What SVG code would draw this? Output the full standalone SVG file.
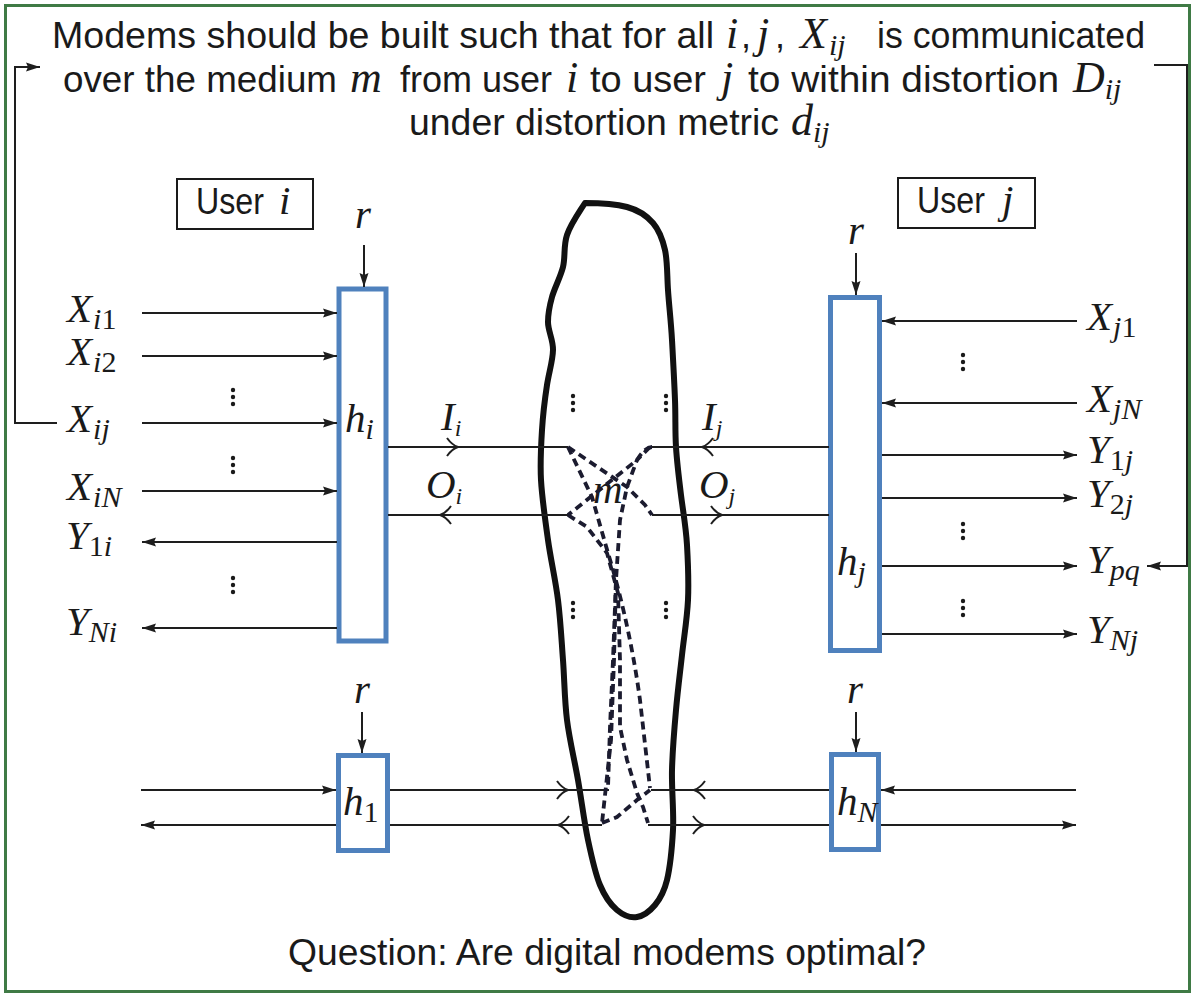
<svg xmlns="http://www.w3.org/2000/svg" width="1195" height="997" viewBox="0 0 1195 997">
<style>
.sans{font-family:"Liberation Sans",Arial,sans-serif;font-size:36px;fill:#1a1a1a}
.mi{font-family:"Liberation Serif","Times New Roman",serif;font-style:italic;font-size:41px;fill:#1a1a1a}
.mt{font-family:"Liberation Serif","Times New Roman",serif;font-style:italic;font-size:44px;fill:#1a1a1a}
.sb{font-size:30px}
.up{font-style:normal}
.ln{stroke:#1e1e1e;stroke-width:2;fill:none}
.arr{marker-end:url(#ah)}
.blue{fill:#fff;stroke:#4f81bd;stroke-width:5}
.ubox{fill:none;stroke:#1a1a1a;stroke-width:2}
.dash{stroke:#1b1b2f;stroke-width:3.8;stroke-dasharray:8 5;fill:none}
.chev{stroke:#1e1e1e;stroke-width:2;fill:none}
.dot{fill:#1a1a1a}
</style>
<defs>
<marker id="ah" viewBox="0 0 14 10" refX="14" refY="5" markerWidth="14" markerHeight="10" markerUnits="userSpaceOnUse" orient="auto">
<path d="M0,0.5 L14,5 L0,9.5 L2,5 Z" fill="#1e1e1e"/>
</marker>
</defs>
<rect x="5.5" y="5.5" width="1184" height="986" fill="#fff" stroke="#3f7a45" stroke-width="3"/>

<g id="title">
<text class="sans" x="52" y="48" textLength="662" lengthAdjust="spacingAndGlyphs">Modems should be built such that for all</text>
<text class="mt" x="726" y="48">i</text><text class="sans" x="741" y="48">,</text>
<text class="mt" x="757" y="48">j</text><text class="sans" x="775" y="48">,</text>
<text class="mt" x="800" y="48" font-size="46">X<tspan class="sb" dy="7" dx="2">ij</tspan></text>
<text class="sans" x="877" y="48" textLength="268" lengthAdjust="spacingAndGlyphs">is communicated</text>
<text class="sans" x="63" y="92" textLength="274" lengthAdjust="spacingAndGlyphs">over the medium</text>
<text class="mt" x="350" y="92" font-size="47">m</text>
<text class="sans" x="400" y="92" textLength="152" lengthAdjust="spacingAndGlyphs">from user</text>
<text class="mt" x="566" y="92">i</text>
<text class="sans" x="590" y="92" textLength="116" lengthAdjust="spacingAndGlyphs">to user</text>
<text class="mt" x="721" y="92">j</text>
<text class="sans" x="748" y="92" textLength="311" lengthAdjust="spacingAndGlyphs">to within distortion</text>
<text class="mt" x="1073" y="92">D<tspan class="sb" dy="7">ij</tspan></text>
<text class="sans" x="409" y="135" textLength="370" lengthAdjust="spacingAndGlyphs">under distortion metric</text>
<text class="mt" x="791" y="135">d<tspan class="sb" dy="7">ij</tspan></text>
</g>

<g id="user-i">
<rect class="ubox" x="177" y="179" width="136" height="50"/>
<text class="sans" x="196" y="214" font-size="35" textLength="68" lengthAdjust="spacingAndGlyphs">User</text>
<text class="mi" x="279" y="214">i</text>
</g>
<g id="user-j">
<rect class="ubox" x="898" y="178" width="137" height="50"/>
<text class="sans" x="917" y="213" font-size="35" textLength="68" lengthAdjust="spacingAndGlyphs">User</text>
<text class="mi" x="1002" y="213">j</text>
</g>

<g id="medium">
<path d="M585,203 C596,203 616,204 627,207 S647,216 653,223 S662.5,239 665,250 S667,275 668,290 S671,322 672,340 S674.3,382 675,400 S675,431 676,447 S679,479 681,495 S686,527.5 687,545 S688.8,582 688,600 S684,637 682,655 S677.7,691 676,710 S672.5,750 672,770 S674,812 673,830 S670,867.5 667,880 S660,899 655,905 S643,916 637,917 S623,915 617,910 S605,897 600,885 S591.7,857.5 588,840 S581.5,800 578,780 S569.5,740 567,720 S564.5,680 563,660 S560.5,620 558,600 S550.8,560 548,540 S542,498 541,480 S541,446 542,430 S545,398 547,385 S552.8,360.5 553,350 S548,331 548,322 S549.5,306 552,297 S560.5,277 563,267 S563.3,246 567,235 S578,214 585,203 Z" fill="none" stroke="#111" stroke-width="6" stroke-linejoin="round"/>
<text class="mi" x="593" y="503" font-size="38">m</text>
<circle class="dot" cx="573" cy="396" r="2.2"/><circle class="dot" cx="573" cy="403" r="2.2"/><circle class="dot" cx="573" cy="410" r="2.2"/>
<circle class="dot" cx="666" cy="396" r="2.2"/><circle class="dot" cx="666" cy="403" r="2.2"/><circle class="dot" cx="666" cy="410" r="2.2"/>
<circle class="dot" cx="573" cy="603" r="2.2"/><circle class="dot" cx="573" cy="610" r="2.2"/><circle class="dot" cx="573" cy="617" r="2.2"/>
<circle class="dot" cx="666" cy="603" r="2.2"/><circle class="dot" cx="666" cy="610" r="2.2"/><circle class="dot" cx="666" cy="617" r="2.2"/>
</g>

<g id="h-i">
<rect class="blue" x="339" y="289" width="47" height="352"/>
<text class="mi" x="345" y="432">h<tspan class="sb" dy="7">i</tspan></text>
<text class="mi" x="355" y="228">r</text>
</g>
<g id="h-j">
<rect class="blue" x="830.5" y="297.5" width="49" height="353"/>
<text class="mi" x="837" y="575">h<tspan class="sb" dy="7">j</tspan></text>
<text class="mi" x="848" y="244">r</text>
</g>
<g id="h-1">
<rect class="blue" x="338.5" y="755.5" width="49" height="95"/>
<text class="mi" x="343" y="815">h<tspan class="sb up" dy="7">1</tspan></text>
<text class="mi" x="354" y="703">r</text>
</g>
<g id="h-N">
<rect class="blue" x="831.5" y="754.5" width="47" height="95"/>
<text class="mi" x="837" y="815">h<tspan class="sb" dy="7">N</tspan></text>
<text class="mi" x="847" y="703">r</text>
</g>

<g id="labels-i">
<text class="mi" x="67" y="322">X<tspan class="sb" dy="7" dx="1">i</tspan><tspan class="sb up">1</tspan></text>
<text class="mi" x="67" y="365">X<tspan class="sb" dy="7" dx="1">i</tspan><tspan class="sb up">2</tspan></text>
<text class="mi" x="67" y="432">X<tspan class="sb" dy="7" dx="1">ij</tspan></text>
<text class="mi" x="67" y="500">X<tspan class="sb" dy="7" dx="1">iN</tspan></text>
<text class="mi" x="66" y="549">Y<tspan class="sb up" dy="7">1</tspan><tspan class="sb">i</tspan></text>
<text class="mi" x="66" y="635">Y<tspan class="sb" dy="7">Ni</tspan></text>
<text class="mi" x="441" y="430" font-size="33">I<tspan font-size="24" dy="6">i</tspan></text>
<text class="mi" x="426" y="498" font-size="33">O<tspan font-size="24" dy="6">i</tspan></text>
<circle class="dot" cx="233" cy="390" r="2.2"/><circle class="dot" cx="233" cy="397" r="2.2"/><circle class="dot" cx="233" cy="404" r="2.2"/>
<circle class="dot" cx="233" cy="458" r="2.2"/><circle class="dot" cx="233" cy="465" r="2.2"/><circle class="dot" cx="233" cy="472" r="2.2"/>
<circle class="dot" cx="233" cy="578" r="2.2"/><circle class="dot" cx="233" cy="585" r="2.2"/><circle class="dot" cx="233" cy="592" r="2.2"/>
</g>
<g id="labels-j">
<text class="mi" x="1087" y="330">X<tspan class="sb" dy="7" dx="1">j</tspan><tspan class="sb up">1</tspan></text>
<text class="mi" x="1087" y="412">X<tspan class="sb" dy="7" dx="1">jN</tspan></text>
<text class="mi" x="1087" y="463">Y<tspan class="sb up" dy="7">1</tspan><tspan class="sb">j</tspan></text>
<text class="mi" x="1087" y="507">Y<tspan class="sb up" dy="7">2</tspan><tspan class="sb">j</tspan></text>
<text class="mi" x="1087" y="573">Y<tspan class="sb" dy="7">pq</tspan></text>
<text class="mi" x="1087" y="643">Y<tspan class="sb" dy="7">Nj</tspan></text>
<text class="mi" x="702" y="430" font-size="33">I<tspan font-size="24" dy="6">j</tspan></text>
<text class="mi" x="699" y="498" font-size="33">O<tspan font-size="24" dy="6">j</tspan></text>
<circle class="dot" cx="963" cy="355" r="2.2"/><circle class="dot" cx="963" cy="362" r="2.2"/><circle class="dot" cx="963" cy="369" r="2.2"/>
<circle class="dot" cx="963" cy="524" r="2.2"/><circle class="dot" cx="963" cy="531" r="2.2"/><circle class="dot" cx="963" cy="538" r="2.2"/>
<circle class="dot" cx="963" cy="601" r="2.2"/><circle class="dot" cx="963" cy="608" r="2.2"/><circle class="dot" cx="963" cy="615" r="2.2"/>
</g>

<g id="connectors">
<path class="ln arr" d="M57,423 H15 V67 H40"/>
<path class="ln arr" d="M1154,65 H1187 V566 H1147"/>
<path class="ln arr" d="M364,245 V287"/>
<path class="ln arr" d="M856,253 V295"/>
<path class="ln arr" d="M362,712 V753"/>
<path class="ln arr" d="M856,712 V752"/>
<path class="ln arr" d="M142,313 H337"/>
<path class="ln arr" d="M142,356 H337"/>
<path class="ln arr" d="M142,423 H337"/>
<path class="ln arr" d="M142,491 H337"/>
<path class="ln arr" d="M337,542 H142"/>
<path class="ln arr" d="M337,628 H142"/>
<path class="ln arr" d="M1077,321 H882"/>
<path class="ln arr" d="M1077,403 H882"/>
<path class="ln arr" d="M882,455 H1077"/>
<path class="ln arr" d="M882,498 H1077"/>
<path class="ln arr" d="M882,566 H1077"/>
<path class="ln arr" d="M882,634 H1077"/>
<path class="ln arr" d="M141,790 H336"/>
<path class="ln arr" d="M336,825 H141"/>
<path class="ln arr" d="M1076,790 H881"/>
<path class="ln arr" d="M881,825 H1076"/>
<path class="ln" d="M388,447 H568"/>
<path class="ln" d="M388,515 H568"/>
<path class="ln" d="M652,447 H829"/>
<path class="ln" d="M652,515 H829"/>
<path class="ln" d="M390,790 H609"/>
<path class="ln" d="M390,825 H602"/>
<path class="ln" d="M651,790 H829"/>
<path class="ln" d="M648,825 H829"/>
<path class="chev" d="M447,438 Q452,445 458,447 Q452,449 447,456"/>
<path class="chev" d="M451,506 Q446,513 440,515 Q446,517 451,524"/>
<path class="chev" d="M713,438 Q708,445 702,447 Q708,449 713,456"/>
<path class="chev" d="M711,506 Q716,513 722,515 Q716,517 711,524"/>
<path class="chev" d="M557,781 Q562,788 568,790 Q562,792 557,799"/>
<path class="chev" d="M569,816 Q564,823 558,825 Q564,827 569,834"/>
<path class="chev" d="M705,781 Q700,788 694,790 Q700,792 705,799"/>
<path class="chev" d="M693,816 Q698,823 704,825 Q698,827 693,834"/>
<path class="dash" d="M568,447 L627,487 L645,505 L652,515"/>
<path class="dash" d="M652,447 Q645,447 637,460 L568,515"/>
<path class="dash" d="M568,447 L592,497 L608,553 C618,585 632,640 640,700 L650,788"/>
<path class="dash" d="M650,447 L637,460 L627,487 L620,520 L616,580 L613,660 L610,727 L608,788"/>
<path class="dash" d="M568,515 L587,527 L607,553 L618,593 L620,660 L620,727 L627,760 L637,793 L643,807 L648,823"/>
<path class="dash" d="M616,580 L614,660 L611,740 L602,823"/>
<path class="dash" d="M602,823 L617,817 L637,800 L650,790"/>
</g>

<g id="question">
<text class="sans" x="288" y="965" textLength="638" lengthAdjust="spacingAndGlyphs">Question: Are digital modems optimal?</text>
</g>
</svg>
